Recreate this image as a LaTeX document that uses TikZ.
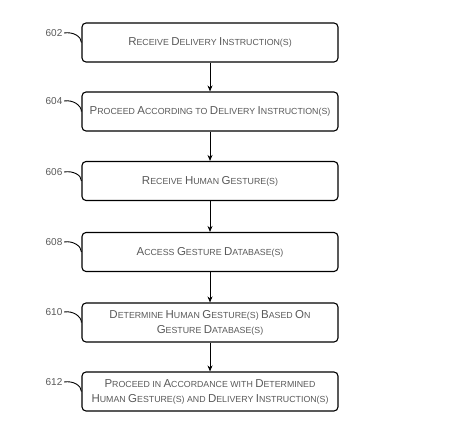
\documentclass[tikz,border=0pt]{standalone}
\usepackage{fontspec}
\setmainfont{Liberation Sans}
\usetikzlibrary{arrows.meta}
\newcommand\Bg[1]{{\fontsize{11.5}{13}\selectfont #1}}
\begin{document}
\begin{tikzpicture}[x=1pt,y=1pt,
 stepbox/.style={draw, rounded corners=4pt, line width=1.1pt, minimum width=256pt, minimum height=39pt, align=center, font=\fontsize{8.8}{15}\selectfont, text=black!65, inner sep=0pt},
 lbl/.style={font=\fontsize{10}{12}\selectfont, text=black!65, inner sep=1.5pt},
 flow/.style={-{Stealth[length=6pt,width=5pt]}, line width=0.9pt},
 lead/.style={line width=0.9pt}]
\useasboundingbox (0,0) rectangle (453,-443);
\node[stepbox] (b602) at (210,-42.5) {\Bg{R}ECEIVE \Bg{D}ELIVERY \Bg{I}NSTRUCTION(S)};
\node[stepbox] (b604) at (210,-111.5) {\Bg{P}ROCEED \Bg{A}CCORDING TO \Bg{D}ELIVERY \Bg{I}NSTRUCTION(S)};
\node[stepbox] (b606) at (210,-181) {\Bg{R}ECEIVE \Bg{H}UMAN \Bg{G}ESTURE(S)};
\node[stepbox] (b608) at (210,-252) {\Bg{A}CCESS \Bg{G}ESTURE \Bg{D}ATABASE(S)};
\node[stepbox] (b610) at (210,-322.5) {\Bg{D}ETERMINE \Bg{H}UMAN \Bg{G}ESTURE(S) \Bg{B}ASED \Bg{O}N\\\Bg{G}ESTURE \Bg{D}ATABASE(S)};
\node[stepbox] (b612) at (210,-391.5) {\Bg{P}ROCEED IN \Bg{A}CCORDANCE WITH \Bg{D}ETERMINED\\\Bg{H}UMAN \Bg{G}ESTURE(S) AND \Bg{D}ELIVERY \Bg{I}NSTRUCTION(S)};
\node[lbl] (l602) at (54,-33) {602};
\node[lbl] (l604) at (54,-101) {604};
\node[lbl] (l606) at (54,-172) {606};
\node[lbl] (l608) at (54,-242) {608};
\node[lbl] (l610) at (54,-312) {610};
\node[lbl] (l612) at (54,-382) {612};
\foreach \n in {602,604,606,608,610,612}
  \draw[lead] (l\n.east) .. controls +(9,1.5) and +(0,6) .. (b\n.west);
\draw[flow] (b602) -- (b604);
\draw[flow] (b604) -- (b606);
\draw[flow] (b606) -- (b608);
\draw[flow] (b608) -- (b610);
\draw[flow] (b610) -- (b612);
\end{tikzpicture}
\end{document}
